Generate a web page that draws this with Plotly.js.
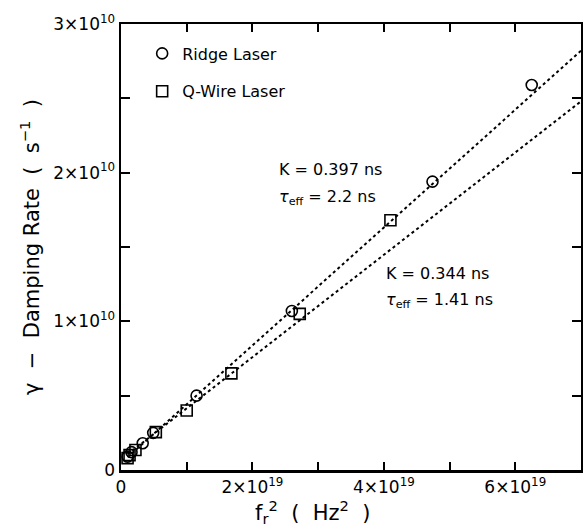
<!DOCTYPE html>
<html><head><meta charset="utf-8">
<script src="https://cdn.plot.ly/plotly-3.0.1.min.js"></script>
<style>body{margin:0;background:#fff}#g{width:583px;height:532px}</style>
</head><body><div id="g"></div>
<script>
const ridgeX = [0.1e19, 0.16e19, 0.33e19, 0.49e19, 1.15e19, 2.6e19, 4.74e19, 6.25e19];
const ridgeY = [0.09e10, 0.12e10, 0.18e10, 0.25e10, 0.50e10, 1.07e10, 1.94e10, 2.59e10];
const qwireX = [0.1e19, 0.13e19, 0.22e19, 0.53e19, 1.0e19, 1.68e19, 2.72e19, 4.1e19];
const qwireY = [0.08e10, 0.10e10, 0.135e10, 0.255e10, 0.40e10, 0.65e10, 1.05e10, 1.68e10];
const ridgeFitX = [0.1e19, 7e19];
const ridgeFitY = [0.085e10, 2.82e10];
const qwireFitX = [0.1e19, 7e19];
const qwireFitY = [0.105e10, 2.48e10];
const xTickVals = [0, 1e19, 2e19, 3e19, 4e19, 5e19, 6e19, 7e19];
const xTickText = ['0', '', '2×10<sup>19</sup>', '', '4×10<sup>19</sup>', '', '6×10<sup>19</sup>', ''];
const yTickVals = [0, 0.5e10, 1e10, 1.5e10, 2e10, 2.5e10, 3e10];
const yTickText = ['0', '', '1×10<sup>10</sup>', '', '2×10<sup>10</sup>', '', '3×10<sup>10</sup>'];

const F = 'DejaVu Sans, sans-serif';
const traces = [
  {x: ridgeFitX, y: ridgeFitY, mode: 'lines', line: {color: '#000', width: 2, dash: 'dot'}, showlegend: false, hoverinfo: 'skip'},
  {x: qwireFitX, y: qwireFitY, mode: 'lines', line: {color: '#000', width: 2, dash: 'dot'}, showlegend: false, hoverinfo: 'skip'},
  {x: ridgeX, y: ridgeY, mode: 'markers', name: 'Ridge Laser', legendgroup: 'a',
   marker: {symbol: 'circle-open', size: 11, color: '#000', line: {width: 1.6, color: '#000'}}},
  {x: qwireX, y: qwireY, mode: 'markers', name: 'Q-Wire Laser', legendgroup: 'b',
   marker: {symbol: 'square-open', size: 11, color: '#000', line: {width: 1.6, color: '#000'}}}
];
const layout = {
  width: 583, height: 532,
  margin: {l: 121, r: 2, t: 24, b: 62},
  paper_bgcolor: '#fff', plot_bgcolor: '#fff',
  font: {family: F, color: '#000', size: 16},
  showlegend: true,
  legend: {x: 0.046, y: 0.972, xanchor: 'left', yanchor: 'top', bgcolor: 'rgba(0,0,0,0)',
           font: {size: 16, family: F}, traceorder: 'grouped', tracegroupgap: 14},
  xaxis: {range: [0, 7e19], tickmode: 'array', tickvals: xTickVals, ticktext: xTickText,
          ticks: 'inside', ticklen: 8, tickwidth: 2, tickcolor: '#000', showgrid: false, zeroline: false,
          showline: true, linewidth: 2.5, linecolor: '#000', mirror: 'ticks',
          tickfont: {size: 17, family: F}},
  yaxis: {range: [0, 3e10], tickmode: 'array', tickvals: yTickVals, ticktext: yTickText,
          ticks: 'inside', ticklen: 9, tickwidth: 2, tickcolor: '#000', showgrid: false, zeroline: false,
          showline: true, linewidth: 2.5, linecolor: '#000', mirror: 'ticks',
          tickfont: {size: 17, family: F},
          title: {text: 'γ  −  Damping Rate  (  s<sup>−1</sup>  )', font: {size: 21, family: F}, standoff: 8}},
  annotations: [
    {x: 0.417, y: -0.094, xref: 'paper', yref: 'paper', xanchor: 'center', yanchor: 'middle', showarrow: false,
     text: 'f<sub>r</sub><sup>2</sup>  (  Hz<sup>2</sup>  )', font: {size: 21, family: F}},
    {x: 2.38e19, y: 2.02e10, xref: 'x', yref: 'y', xanchor: 'left', yanchor: 'middle', showarrow: false,
     text: 'K = 0.397 ns', font: {size: 16, family: F}},
    {x: 2.38e19, y: 1.83e10, xref: 'x', yref: 'y', xanchor: 'left', yanchor: 'middle', showarrow: false,
     text: '<i>τ</i><sub>eff</sub> = 2.2 ns', font: {size: 16, family: F}},
    {x: 4.0e19, y: 1.325e10, xref: 'x', yref: 'y', xanchor: 'left', yanchor: 'middle', showarrow: false,
     text: 'K = 0.344 ns', font: {size: 16, family: F}},
    {x: 4.0e19, y: 1.14e10, xref: 'x', yref: 'y', xanchor: 'left', yanchor: 'middle', showarrow: false,
     text: '<i>τ</i><sub>eff</sub> = 1.41 ns', font: {size: 16, family: F}}
  ]
};
Plotly.newPlot('g', traces, layout, {displayModeBar: false, staticPlot: true});
</script></body></html>
